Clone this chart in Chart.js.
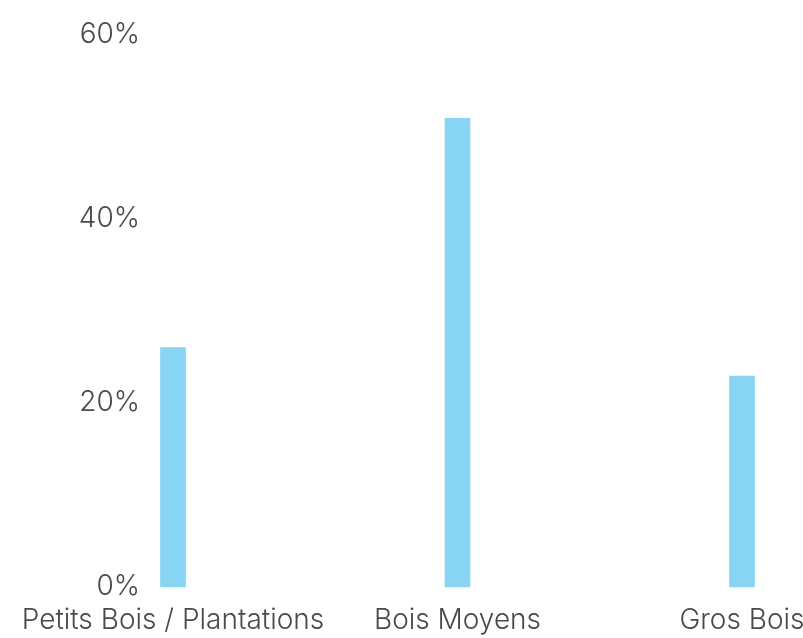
<!DOCTYPE html>
<html>
<head>
<meta charset="utf-8">
<script src="https://cdn.jsdelivr.net/npm/chart.js@4"></script>
<style>
    html, body { margin: 0; padding: 0; background: #fff; overflow: hidden; }
    #wrap { width: 803px; height: 638px; position: relative; }
</style>
</head>
<body>
<div id="wrap"><canvas id="barChart"></canvas></div>
<script>
const categories = ['Petits Bois / Plantations', 'Bois Moyens', 'Gros Bois'];
const shares = [26, 50.9, 22.9];
const yTicks = [0, 20, 40, 60];

const ctx = document.getElementById('barChart').getContext('2d');
const textColor = '#4a4a4a';
const font = { family: 'Inter', size: 28, weight: 300 };

new Chart(ctx, {
    type: 'bar',
    data: {
        labels: categories,
        datasets: [{
            data: shares,
            backgroundColor: '#88d4f3',
            barThickness: 25,
            clip: false
        }]
    },
    options: {
        responsive: true,
        maintainAspectRatio: false,
        animation: false,
        layout: { padding: { top: 34.5, right: 61, bottom: 3, left: 0 } },
        plugins: {
            legend: { display: false },
            tooltip: { enabled: false }
        },
        scales: {
            x: {
                offset: false,
                grid: { display: false, drawTicks: false },
                border: { display: false },
                ticks: { color: textColor, font: font, padding: 17, maxRotation: 0, autoSkip: false },
                // fixed axis height so the plot bottom lands on the reference baseline
                afterFit: function(s) { s.paddingLeft = 0; s.paddingRight = 0; s.height = 48; }
            },
            y: {
                min: 0,
                max: 60,
                afterBuildTicks: function(s) { s.ticks = yTicks.map(v => ({ value: v })); },
                grid: { display: false, drawTicks: false },
                border: { display: false },
                ticks: { color: textColor, font: font, padding: 33, callback: v => v + '%' },
                afterFit: function(s) { s.width = 173; s.paddingTop = 0; s.paddingBottom = 0; }
            }
        }
    }
});
</script>
</body>
</html>
